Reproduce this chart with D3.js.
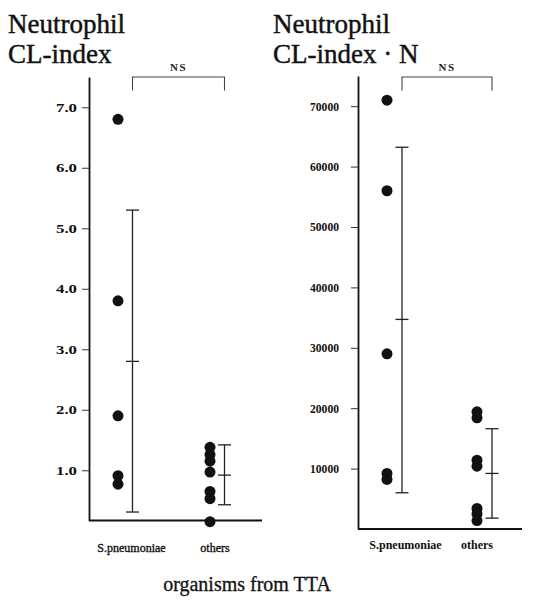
<!DOCTYPE html>
<html lang="en">
<head>
<meta charset="UTF-8">
<title>Neutrophil CL-index</title>
<script src="https://cdn.jsdelivr.net/npm/d3@7"></script>
<style>
    body { margin: 0; background: #fff; }
</style>
</head>
<body>
<script>
// groups on the x axis
var groups = ["S.pneumoniae", "others"];

// left panel: CL-index
var leftTicks = [1, 2, 3, 4, 5, 6, 7];
var leftSpn = [6.8, 3.8, 1.9, 0.91, 0.77];
var leftOthers = [1.38, 1.26, 1.15, 0.97, 0.65, 0.53, 0.15];
var leftMean = [2.8, 0.92];
var leftHigh = [5.3, 1.42];
var leftLow = [0.31, 0.43];

// right panel: CL-index * N
var rightTicks = [10000, 20000, 30000, 40000, 50000, 60000, 70000];
var rightSpn = [71000, 56000, 29000, 9200, 8200];
var rightOthers = [19400, 18400, 11400, 10400, 3400, 2500, 1400];
var rightMean = [34700, 9200];
var rightHigh = [63200, 16600];
var rightLow = [6000, 1800];

var SERIF = "Liberation Serif";

var svg = d3.select("body").append("svg")
    .attr("width", 536)
    .attr("height", 604)
    .attr("font-family", SERIF);

function panel(cfg) {
    var g = svg.append("g");

    var y = d3.scaleLinear().domain(cfg.domain).range(cfg.yRange);
    var x = d3.scalePoint().domain(groups).range(cfg.xRange);

    // y axis
    var yAxis = d3.axisLeft(y)
        .tickValues(cfg.ticks)
        .tickFormat(cfg.fmt)
        .tickSizeInner(7)
        .tickSizeOuter(0)
        .tickPadding(cfg.pad);
    var ya = g.append("g")
        .attr("transform", "translate(" + cfg.axisX + ",0)")
        .call(yAxis);
    ya.select(".domain").attr("stroke", "#111").attr("stroke-width", 1.8);
    ya.selectAll(".tick line").attr("stroke", "#333").attr("stroke-width", 1);
    ya.selectAll(".tick text")
        .attr("font-family", SERIF)
        .attr("font-weight", "bold")
        .attr("font-size", cfg.tickFont)
        .attr("fill", "#111")
        .attr("textLength", cfg.tickLen)
        .attr("lengthAdjust", "spacingAndGlyphs");

    // bottom line
    g.append("line")
        .attr("x1", cfg.axisX).attr("x2", cfg.bottomEnd)
        .attr("y1", y(cfg.domain[0])).attr("y2", y(cfg.domain[0]))
        .attr("stroke", "#111").attr("stroke-width", 1.8);

    // dots
    var pts = [];
    cfg.spn.forEach(function(v) { pts.push({g: groups[0], v: v}); });
    cfg.others.forEach(function(v) { pts.push({g: groups[1], v: v}); });
    g.selectAll("circle.dot").data(pts).enter().append("circle")
        .attr("class", "dot")
        .attr("cx", function(d) { return x(d.g); })
        .attr("cy", function(d) { return y(d.v); })
        .attr("r", 5.5)
        .attr("fill", "#111");

    // mean +- sd bars
    var stats = groups.map(function(k, i) {
        return {g: k, mean: cfg.mean[i], hi: cfg.high[i], lo: cfg.low[i]};
    });
    var eb = g.selectAll("g.eb").data(stats).enter().append("g").attr("class", "eb")
        .attr("stroke", "#222").attr("stroke-width", 1.3);
    var ex = function(d) { return x(d.g) + cfg.barOff; };
    eb.append("line")
        .attr("x1", ex).attr("x2", ex)
        .attr("y1", function(d) { return y(d.hi); })
        .attr("y2", function(d) { return y(d.lo); });
    ["hi", "mean", "lo"].forEach(function(k) {
        eb.append("line")
            .attr("x1", function(d) { return ex(d) - 6.5; })
            .attr("x2", function(d) { return ex(d) + 6.5; })
            .attr("y1", function(d) { return y(d[k]); })
            .attr("y2", function(d) { return y(d[k]); });
    });

    // NS bracket
    var bx1 = x(groups[0]) + cfg.barOff, bx2 = x(groups[1]) + cfg.barOff;
    g.append("path")
        .attr("d", "M" + bx1 + ",90.5V77H" + bx2 + "V90.5")
        .attr("fill", "none").attr("stroke", "#444").attr("stroke-width", 1.1);
    g.append("text")
        .attr("x", (bx1 + bx2) / 2).attr("y", 70.5)
        .attr("text-anchor", "middle")
        .attr("font-family", SERIF)
        .attr("font-size", 11).attr("font-weight", "bold")
        .attr("letter-spacing", 1.5)
        .attr("fill", "#222")
        .text("NS");

    // group labels
    g.selectAll("text.cat").data(groups).enter().append("text")
        .attr("class", "cat")
        .attr("x", function(d, i) { return cfg.labelX[i]; })
        .attr("y", cfg.labelY)
        .attr("text-anchor", "middle")
        .attr("font-family", SERIF)
        .attr("font-size", 12)
        .attr("font-weight", cfg.labelWeight)
        .attr("fill", "#111")
        .attr("stroke", "#111")
        .attr("stroke-width", cfg.labelWeight === "bold" ? 0 : 0.35)
        .text(function(d) { return d; });

    // title
    var t = g.append("text").attr("x", cfg.titleX)
        .attr("font-family", SERIF).attr("font-size", 27).attr("fill", "#111")
        .attr("stroke", "#111").attr("stroke-width", 0.45);
    t.append("tspan").attr("x", cfg.titleX).attr("y", 33).text("Neutrophil");
    t.append("tspan").attr("x", cfg.titleX).attr("y", 63).text(cfg.title2);
}

panel({
    domain: [0.17, 7.5], yRange: [520.5, 77], xRange: [118, 210],
    axisX: 89, bottomEnd: 262, ticks: leftTicks, fmt: d3.format(".1f"),
    pad: 5, tickFont: 13, tickLen: 21,
    spn: leftSpn, others: leftOthers, mean: leftMean, high: leftHigh, low: leftLow,
    barOff: 14.5, labelX: [131.5, 215], labelY: 552, labelWeight: "normal",
    titleX: 8, title2: "CL-index"
});

panel({
    domain: [0, 75000], yRange: [529, 76], xRange: [387, 477],
    axisX: 358, bottomEnd: 522, ticks: rightTicks, fmt: d3.format("d"),
    pad: 12, tickFont: 12, tickLen: 29,
    spn: rightSpn, others: rightOthers, mean: rightMean, high: rightHigh, low: rightLow,
    barOff: 15, labelX: [405.5, 477], labelY: 549, labelWeight: "bold",
    titleX: 273, title2: "CL-index \u00B7 N"
});

// shared x caption
svg.append("text")
    .attr("x", 247).attr("y", 591)
    .attr("text-anchor", "middle")
    .attr("font-family", SERIF)
    .attr("font-size", 20)
    .attr("fill", "#111")
    .attr("stroke", "#111").attr("stroke-width", 0.3)
    .text("organisms from TTA");
</script>
</body>
</html>
